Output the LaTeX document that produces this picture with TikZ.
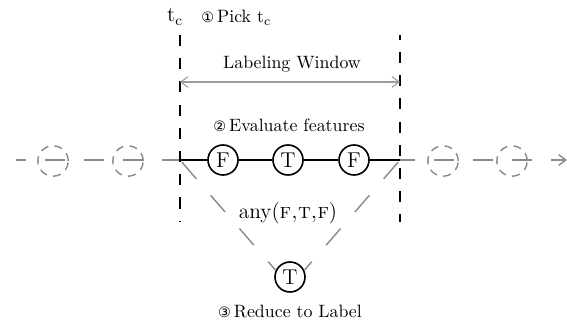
\documentclass[tikz,border=0pt]{standalone}
\usepackage{fontspec}
\newfontfamily\symfont{DejaVu Sans}
\usetikzlibrary{arrows.meta}
\definecolor{ghostline}{HTML}{8A8A8A}
\definecolor{spangray}{HTML}{9C9C9C}
\newcommand{\circnum}[1]{{\symfont\footnotesize #1}}
\begin{document}
\begin{tikzpicture}[x=0.56pt,y=-0.56pt,
  state/.style={circle,draw=black,line width=0.9pt,minimum size=16.8pt,
    inner sep=0pt,font=\large,fill=white},
  ghost/.style={circle,draw=ghostline,line width=0.8pt,minimum size=17pt,
    inner sep=0pt,dash pattern=on 4.5pt off 3.5pt},
  window/.style={line width=1.1pt,dash pattern=on 6.2pt off 6.8pt},
  timeline/.style={ghostline,line width=0.8pt,
    dash pattern=on 11.2pt off 10.6pt,dash phase=5.6pt},
  reduce/.style={ghostline,line width=0.8pt,
    dash pattern=on 12.3pt off 12.3pt,dash phase=23pt},
  barb/.tip={Straight Barb[length=4pt,width=6pt]},
  lbl/.style={inner sep=0pt,font=\normalsize}]
\useasboundingbox (0,0) rectangle (576,323);

% key points
\coordinate (tl) at (180,160);
\coordinate (tr) at (400,160);
\coordinate (start) at (16,160);
\coordinate (future) at (567,160);
\coordinate (wl-top) at (180,35);
\coordinate (wl-bot) at (180,222);
\coordinate (wr-top) at (400,35);
\coordinate (wr-bot) at (400,222);
\coordinate (span-l) at (180,82);
\coordinate (span-r) at (400,82);

% the whole stream of time steps
\draw[timeline,-barb] (start) -- (future);
\node[ghost] (g1) at (53,161) {};
\node[ghost] (g2) at (128,161) {};
\node[ghost] (g3) at (443,161) {};
\node[ghost] (g4) at (512,161) {};

% window borders
\draw[window] (wl-top) -- (wl-bot);
\draw[window,dash phase=3.5pt] (wr-top) -- (wr-bot);

% labeling window extent
\draw[spangray,line width=0.6pt,barb-barb] (span-l) -- (span-r);
\node[lbl] (wlabel) at (292,64) {Labeling Window};

% evaluated steps inside the window
\node[state] (f1) at (223,160) {F};
\node[state] (t1) at (288,160) {T};
\node[state] (f2) at (354,160) {F};
\draw[line width=1pt] (tl) -- (f1) -- (t1) -- (f2) -- (tr);

% reduction to one label
\node[state] (res) at (290,277) {T};
\draw[reduce] (tl) -- (res.155);
\draw[reduce] (tr) -- (res.25);

% texts
\node[lbl,font=\large] (tc) at (175,17) {t$_{\mathrm{c}}$};
\node[lbl,anchor=west] (pick) at (201,18) {\circnum{①}\,Pick t$_{\mathrm{c}}$};
\node[lbl] (eval) at (289,125) {\circnum{②}\,Evaluate features};
\node[lbl,font=\large] (any) at (288,213) {any(\textsc{f,t,f})};
\node[lbl] (red) at (290,311) {\circnum{③}\,Reduce to Label};
\end{tikzpicture}
\end{document}
